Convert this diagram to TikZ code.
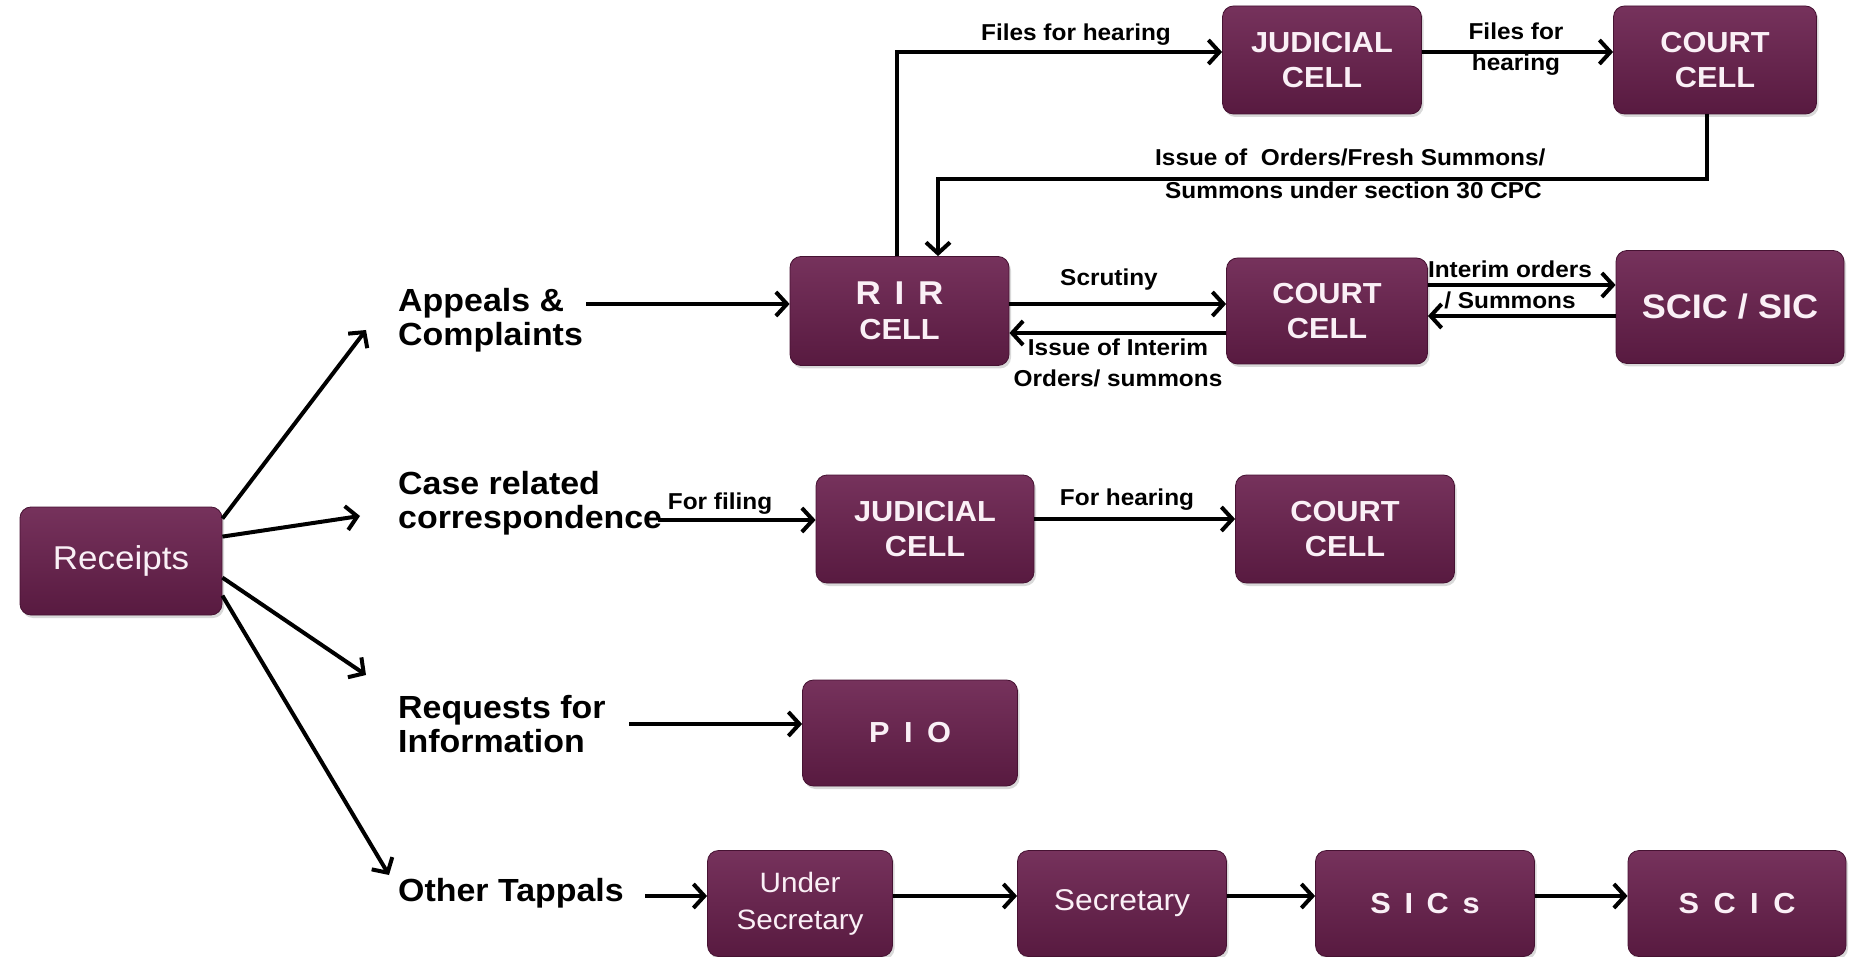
\documentclass[tikz,border=0pt]{standalone}
\usepackage{fontspec}
\setmainfont{Liberation Sans}[FakeStretch=1.06]
\usetikzlibrary{arrows.meta,shadows,calc}
\definecolor{boxtop}{RGB}{118,50,92}
\definecolor{boxbot}{RGB}{88,26,64}
\definecolor{boxline}{RGB}{70,18,50}
\definecolor{boxtext}{RGB}{250,240,246}
\begin{document}
\begin{tikzpicture}[x=1pt,y=-1pt,
  cell/.style={rectangle, rounded corners=11pt, draw=boxline, line width=0.8pt,
    top color=boxtop, bottom color=boxbot, text=boxtext, align=center, inner sep=0pt,
    drop shadow={shadow xshift=2pt, shadow yshift=-3pt, opacity=0.3},
    font=\fontsize{29}{35}\selectfont\bfseries},
  cellreg/.style={cell, font=\fontsize{28}{37}\selectfont},
  biglbl/.style={inner sep=0pt, align=left, anchor=west, font=\fontsize{32}{34}\selectfont\bfseries},
  elbl/.style={inner sep=0pt, align=center, font=\fontsize{23}{31}\selectfont\bfseries},
  arr/.style={line width=4pt, -{Straight Barb[length=11pt,width=24pt]}}
]
\useasboundingbox (0,0) rectangle (1850,957);

% ---------- nodes ----------
\node[cellreg, minimum width=202pt, minimum height=108pt, font=\fontsize{33}{38}\selectfont] (rec) at (121,561) {Receipts};

\node[cell, minimum width=219pt, minimum height=109pt] (rir) at (899.5,311) {{\fontsize{33}{36}\selectfont R\hspace{0.42em}I\hspace{0.42em}R}\\CELL};
\node[cell, minimum width=201pt, minimum height=106pt] (crt) at (1327,311) {COURT\\CELL};
\node[cell, minimum width=228pt, minimum height=113pt, font=\fontsize{34}{38}\selectfont\bfseries] (scic) at (1730,307) {SCIC / SIC};

\node[cell, minimum width=199pt, minimum height=108pt] (judt) at (1322,60) {JUDICIAL\\CELL};
\node[cell, minimum width=203pt, minimum height=108pt] (crtt) at (1715,60) {COURT\\CELL};

\node[cell, minimum width=218pt, minimum height=108pt] (judm) at (925,529) {JUDICIAL\\CELL};
\node[cell, minimum width=219pt, minimum height=108pt] (crtm) at (1345,529) {COURT\\CELL};

\node[cell, minimum width=215pt, minimum height=106pt] (pio) at (910,733) {P\hspace{0.5em}I\hspace{0.5em}O};

\node[cellreg, minimum width=185pt, minimum height=106pt] (und) at (800,903.5) {Under\\Secretary};
\node[cellreg, minimum width=209pt, minimum height=106pt, font=\fontsize{30}{36}\selectfont] (sec) at (1122,903.5) {Secretary};
\node[cell, minimum width=219pt, minimum height=106pt] (sics) at (1425,903.5) {S\hspace{0.47em}I\hspace{0.47em}C\hspace{0.47em}s};
\node[cell, minimum width=218pt, minimum height=106pt] (scicb) at (1737,903.5) {S\hspace{0.5em}C\hspace{0.5em}I\hspace{0.5em}C};

% ---------- black labels ----------
\node[biglbl] (app) at (398,320) {Appeals \&\\Complaints};
\node[biglbl] (case) at (398,503) {Case related\\correspondence};
\node[biglbl] (req) at (398,724) {Requests for\\Information};
\node[biglbl] (oth) at (398,893) {Other Tappals};

% ---------- connectors from Receipts ----------
\coordinate (tA) at (366,330);
\coordinate (tB) at (360,516);
\coordinate (tC) at (366,675);
\coordinate (tD) at (389,875);
\draw[arr] ([yshift=-12pt]rec.north east) -- (tA);
\draw[arr] ([yshift=-30pt]rec.north east) -- (tB);
\draw[arr] ([yshift=-71pt]rec.north east) -- (tC);
\draw[arr] ([yshift=-89pt]rec.north east) -- (tD);

% ---------- row: appeals ----------
\coordinate (appS) at (586,304);
\draw[arr] (appS) -- (appS -| rir.west);
\draw[arr] ([yshift=7pt]rir.east) -- ([yshift=7pt]crt.west);
\draw[arr] ([yshift=-22pt]crt.west) -- ([yshift=-22pt]rir.east);
\node[elbl] (lscr) at (1109,280) {Scrutiny};
\node[elbl] (liss) at (1118,363) {Issue of Interim\\Orders/ summons};

\draw[arr] ([yshift=26pt]crt.east) -- ([yshift=22pt]scic.west);
\draw[arr] ([yshift=-9pt]scic.west) -- ([yshift=-5pt]crt.east);
\node[elbl] (lint) at (1510,285) {Interim orders\\/ Summons};

% ---------- top loop ----------
\draw[arr] ([xshift=-2.5pt]rir.north) |- ([yshift=8pt]judt.west);
\node[elbl] (lf1) at (1076,35) {Files for hearing};
\draw[arr] ([yshift=8pt]judt.east) -- ([yshift=8pt]crtt.west);
\node[elbl] (lf2) at (1516,49) {Files for\\hearing};
\coordinate (turn) at (938,179);
\draw[arr] ([xshift=-8pt]crtt.south) |- (turn) -- (turn |- rir.north);
\node[elbl, anchor=west] (lio1) at (1155,157) {Issue of\ \ Orders/Fresh Summons/};
\node[elbl, anchor=west] (lio2) at (1165,190) {Summons under section 30 CPC};

% ---------- row: case related ----------
\coordinate (caseS) at (658,520);
\draw[arr] (caseS) -- (caseS -| judm.west);
\node[elbl] (lfil) at (720,504) {For filing};
\draw[arr] ([yshift=10pt]judm.east) -- ([yshift=10pt]crtm.west);
\node[elbl] (lhear) at (1127,500) {For hearing};

% ---------- row: requests ----------
\coordinate (reqS) at (629,724);
\draw[arr] (reqS) -- (reqS -| pio.west);

% ---------- row: other tappals ----------
\coordinate (othS) at (645,896);
\draw[arr] (othS) -- (othS -| und.west);
\draw[arr] ([yshift=7.5pt]und.east) -- ([yshift=7.5pt]sec.west);
\draw[arr] ([yshift=7.5pt]sec.east) -- ([yshift=7.5pt]sics.west);
\draw[arr] ([yshift=7.5pt]sics.east) -- ([yshift=7.5pt]scicb.west);
\end{tikzpicture}
\end{document}
